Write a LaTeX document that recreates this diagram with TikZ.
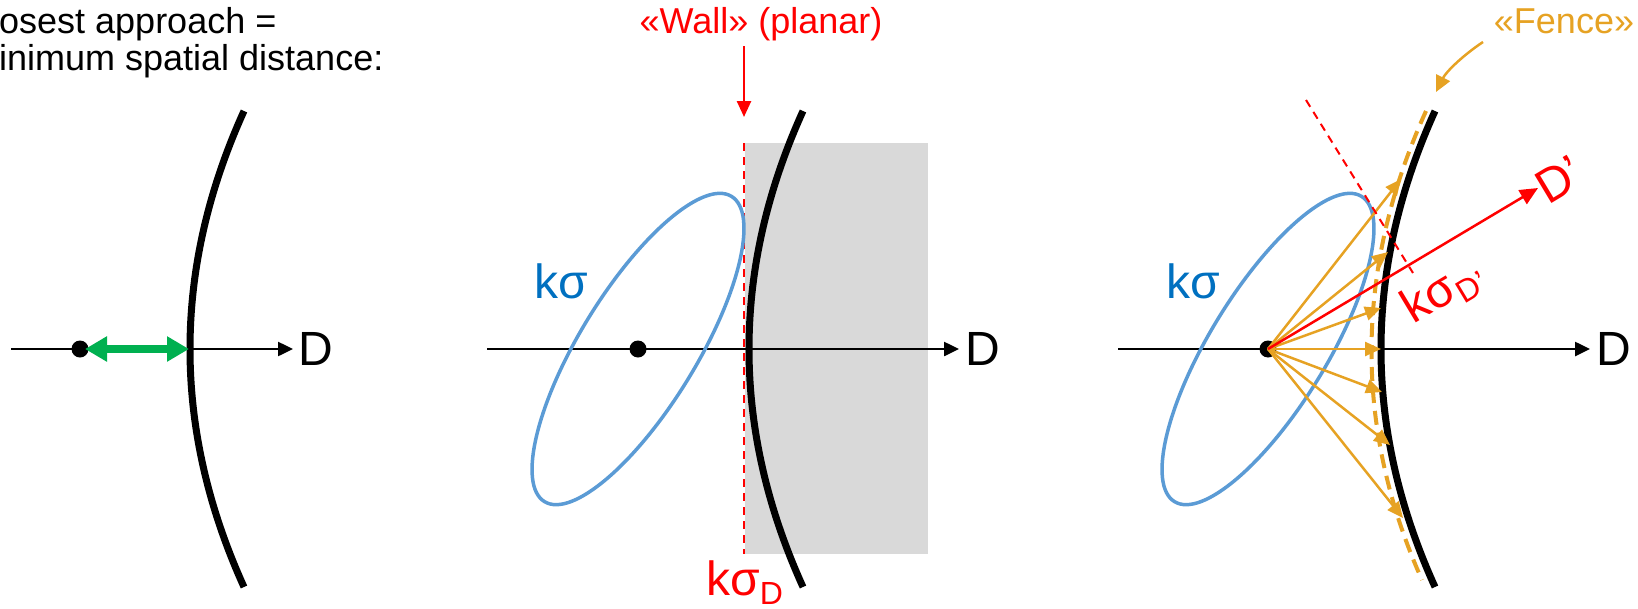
\documentclass[tikz,border=0pt]{standalone}
\usepackage{fontspec}
\setmainfont{Liberation Sans}
\usetikzlibrary{arrows.meta}
\definecolor{myblue}{HTML}{5B9BD5}
\definecolor{txtblue}{HTML}{0070C0}
\definecolor{mygreen}{HTML}{00B050}
\definecolor{myorange}{RGB}{230,162,35}
\definecolor{mygray}{HTML}{D9D9D9}
\definecolor{myred}{HTML}{FF0000}
\begin{document}
\begin{tikzpicture}[x=1pt,y=-1pt,
  daxis/.style={line width=2.5pt, -{Triangle[length=15pt,width=14pt]}},
  blackarc/.style={line width=7pt},
  fencecurve/.style={line width=4pt, myorange, dash pattern=on 14pt off 8pt},
  ray/.style={line width=2.5pt, myorange, -{Triangle[length=16pt,width=14pt]}},
  ell/.style={line width=3.5pt, myblue},
  dotnode/.style={circle, fill=black, inner sep=0pt, minimum size=17pt},
  lbl/.style={inner sep=0pt, font=\fontsize{36}{37}\selectfont},
  big/.style={inner sep=0pt, font=\fontsize{48}{50}\selectfont},
  redarrow/.style={myred, line width=2.5pt, -{Triangle[length=16pt,width=14pt]}},
  reddash/.style={myred, line width=2pt, dash pattern=on 8pt off 6pt},
]
\useasboundingbox (0,0) rectangle (1638,608);

% ---------- left panel ----------
\node[lbl, anchor=base west] (t1) at (-1,33) {osest approach =};
\node[lbl, anchor=base west] (t2) at (-1,70) {inimum spatial distance:};
\coordinate (a1s) at (11,349);
\coordinate (a1e) at (293,349);
\draw[daxis] (a1s) -- (a1e);
\node[big, anchor=west] (D1) at (298,349) {D};
\draw[blackarc] (244,111) .. controls (172,269.7) and (172,428.3) .. (244,587);
\node[dotnode] (p1) at (80,349) {};
\coordinate (g1) at (85,349);
\coordinate (g2) at (189,349);
\draw[mygreen, line width=8pt, {Triangle[length=22pt,width=24pt]}-{Triangle[length=22pt,width=24pt]}] (g1) -- (g2);

% ---------- middle panel ----------
\fill[mygray] (745,143) rectangle (928,554);
\coordinate (w1) at (744,143);
\coordinate (w2) at (744,554);
\draw[reddash] (w1) -- (w2);
\coordinate (a2s) at (487,349);
\coordinate (a2e) at (959,349);
\draw[daxis] (a2s) -- (a2e);
\node[big, anchor=west] (D2) at (965,349) {D};
\node[dotnode] (p2) at (638,349) {};
\draw[ell, rotate around={58.5:(p2.center)}] (p2.center) ellipse[x radius=179, y radius=58.4];
\draw[blackarc] (803,111) .. controls (731,269.7) and (731,428.3) .. (803,587);
\node[big, anchor=base west, text=txtblue] (ks2) at (534,298) {kσ};
\node[lbl, anchor=base, text=myred] (wall) at (761,33) {«Wall» (planar)};
\coordinate (wt) at (744,46);
\coordinate (wh) at (744,117);
\draw[redarrow] (wt) -- (wh);
\node[anchor=base west, inner sep=0pt, text=myred] (ksd) at (706,595)
  {{\fontsize{48}{50}\selectfont kσ}\raisebox{-9pt}{\fontsize{32}{34}\selectfont D}};

% ---------- right panel ----------
\coordinate (a3s) at (1118,349);
\coordinate (a3e) at (1590,349);
\draw[daxis] (a3s) -- (a3e);
\node[big, anchor=west] (D3) at (1596,349) {D};
\node[dotnode] (p3) at (1268,349) {};
\draw[ell, rotate around={58.5:(p3.center)}] (p3.center) ellipse[x radius=179, y radius=58.4];
\node[big, anchor=base west, text=txtblue] (ks3) at (1166,298) {kσ};
\draw[blackarc] (1435,111) .. controls (1363,269.7) and (1363,428.3) .. (1435,587);
\draw[fencecurve] (1426,111) .. controls (1354,269.7) and (1354,428.3) .. (1422,580);
\coordinate (f1) at (1401,179);
\coordinate (f2) at (1388,252);
\coordinate (f3) at (1381,308);
\coordinate (f4) at (1381,349);
\coordinate (f5) at (1382,392);
\coordinate (f6) at (1390,445);
\coordinate (f7) at (1403,518);
\foreach \f in {f1,f2,f3,f4,f5,f6,f7} \draw[ray] (p3.center) -- (\f);
\coordinate (dp1) at (1306,100);
\coordinate (dp2) at (1413,273);
\draw[reddash] (dp1) -- (dp2);
\coordinate (dtip) at (1538,188);
\draw[myred, line width=2.5pt, -{Triangle[length=18pt,width=16pt]}] (p3.center) -- (dtip);
\node[big, rotate=31, text=myred] (Dp) at (1559,180) {D’};
\node[rotate=31, inner sep=0pt, text=myred] (ksdp) at (1443,292)
  {{\fontsize{48}{50}\selectfont kσ}\raisebox{-9pt}{\fontsize{32}{34}\selectfont D’}};
\node[lbl, anchor=base, text=myorange] (fence) at (1564,33) {«Fence»};
\coordinate (fs) at (1483,42);
\coordinate (ft) at (1436,92);
\draw[myorange, line width=2.5pt, -{Triangle[length=16pt,width=15pt]}] (fs) .. controls (1462,56) and (1446,72) .. (ft);
\end{tikzpicture}
\end{document}
